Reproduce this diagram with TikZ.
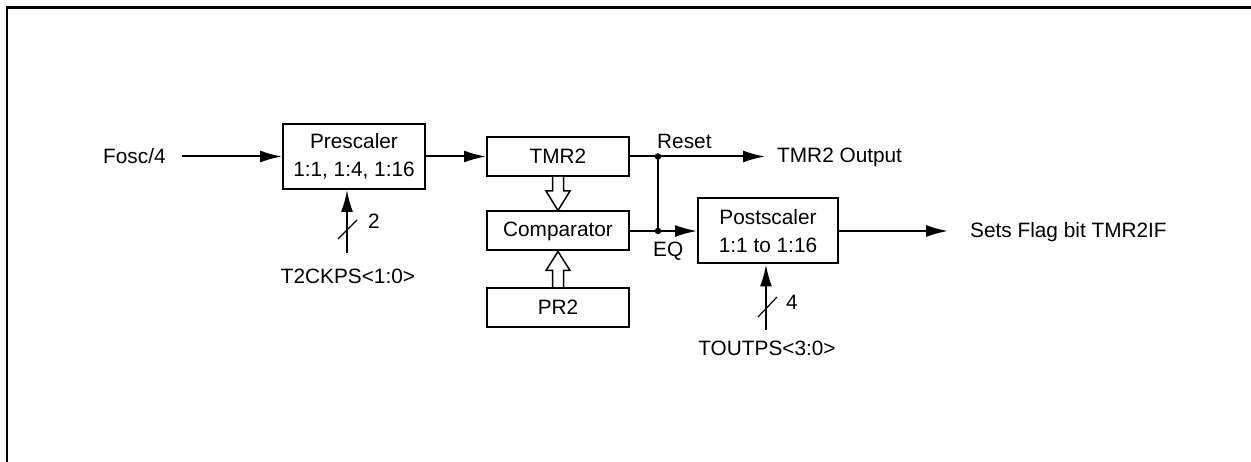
\documentclass[tikz,border=0pt]{standalone}
\usepackage{fontspec}
\setmainfont{Liberation Sans}
\usetikzlibrary{arrows.meta,calc}
\begin{document}
\begin{tikzpicture}[x=1pt,y=-1pt,
 box/.style={draw,line width=2pt,minimum width=142pt,inner sep=0pt,align=center,font=\fontsize{20.8}{28}\selectfont},
 lbl/.style={inner sep=0pt,font=\fontsize{20.8}{24}\selectfont},
 arr/.style={line width=2pt,-{Latex[length=22pt,width=12pt]}},
 wire/.style={line width=2pt},
 slash/.style={line width=1.2pt},
 hollow/.style={draw,line width=1.5pt,fill=white},
 dot/.style={circle,fill,inner sep=0pt,minimum size=6.5pt}]
\useasboundingbox (0,0) rectangle (1251,462);
\draw[line width=2.2pt] (7,462) -- (7,7.5) -- (1251,7.5);

% boxes
\node[box,minimum height=65pt] (pre) at (354,156.5) {Prescaler\\1:1, 1:4, 1:16};
\node[box,minimum height=39pt] (tmr) at (558,156.5) {TMR2};
\node[box,minimum height=39pt] (cmp) at (558,231) {Comparator};
\node[box,minimum height=39pt] (pr) at (558,307.5) {PR2};
\node[box,minimum width=140pt,minimum height=65pt] (post) at (768,231) {Postscaler\\1:1 to 1:16};

% labels
\node[lbl,anchor=base west] (fosc) at (103,164) {Fosc/4};
\node[lbl,anchor=base west] (reset) at (657,149) {Reset};
\node[lbl,anchor=base west] (tmrout) at (777,163) {TMR2 Output};
\node[lbl,anchor=base west] (eq) at (653,257) {EQ};
\node[lbl,anchor=base west] (flag) at (970,238) {Sets Flag bit TMR2IF};
\node[lbl,anchor=base west] (n2) at (368,229) {2};
\node[lbl,anchor=base] (t2) at (348,284) {T2CKPS<1:0>};
\node[lbl,anchor=base west] (n4) at (786,310) {4};
\node[lbl,anchor=base] (toutps) at (767,356) {TOUTPS<3:0>};

% coordinates
\coordinate (fin) at (182,156.5);
\coordinate (j1) at (658,156.5);
\coordinate (j2) at (658,231);
\coordinate (tout) at (765,156.5);
\coordinate (fout) at (948,231);
\coordinate (b1) at (347,253);
\coordinate (b2) at (766,330);

% connectors
\draw[arr] (fin) -- (pre.west);
\draw[arr] (pre.east) -- (tmr.west);
\draw[wire] (tmr.east) -- (j1) -- (j2);
\draw[arr] (j1) -- (tout);
\draw[arr] (cmp.east) -- (post.west);
\draw[arr] (post.east) -- (fout);
\node[dot] (d1) at (j1) {};
\node[dot] (d2) at (j2) {};

% bus inputs
\draw[arr] (b1) -- (b1 |- pre.south);
\draw[slash] ($(b1)+(-9,-14)$) -- ($(b1)+(10,-33)$);
\draw[arr] (b2) -- (b2 |- post.south);
\draw[slash] ($(b2)+(-8,-13)$) -- ($(b2)+(11,-33)$);

% hollow arrows
\draw[hollow] ($(tmr.south)+(-5.5,0)$) -- ($(tmr.south)+(-5.5,14)$) -- ($(tmr.south)+(-12,14)$) -- (cmp.north) -- ($(tmr.south)+(12,14)$) -- ($(tmr.south)+(5.5,14)$) -- ($(tmr.south)+(5.5,0)$);
\draw[hollow] ($(pr.north)+(-5.5,0)$) -- ($(pr.north)+(-5.5,-16.5)$) -- ($(pr.north)+(-12,-16.5)$) -- (cmp.south) -- ($(pr.north)+(12,-16.5)$) -- ($(pr.north)+(5.5,-16.5)$) -- ($(pr.north)+(5.5,0)$);
\end{tikzpicture}
\end{document}
